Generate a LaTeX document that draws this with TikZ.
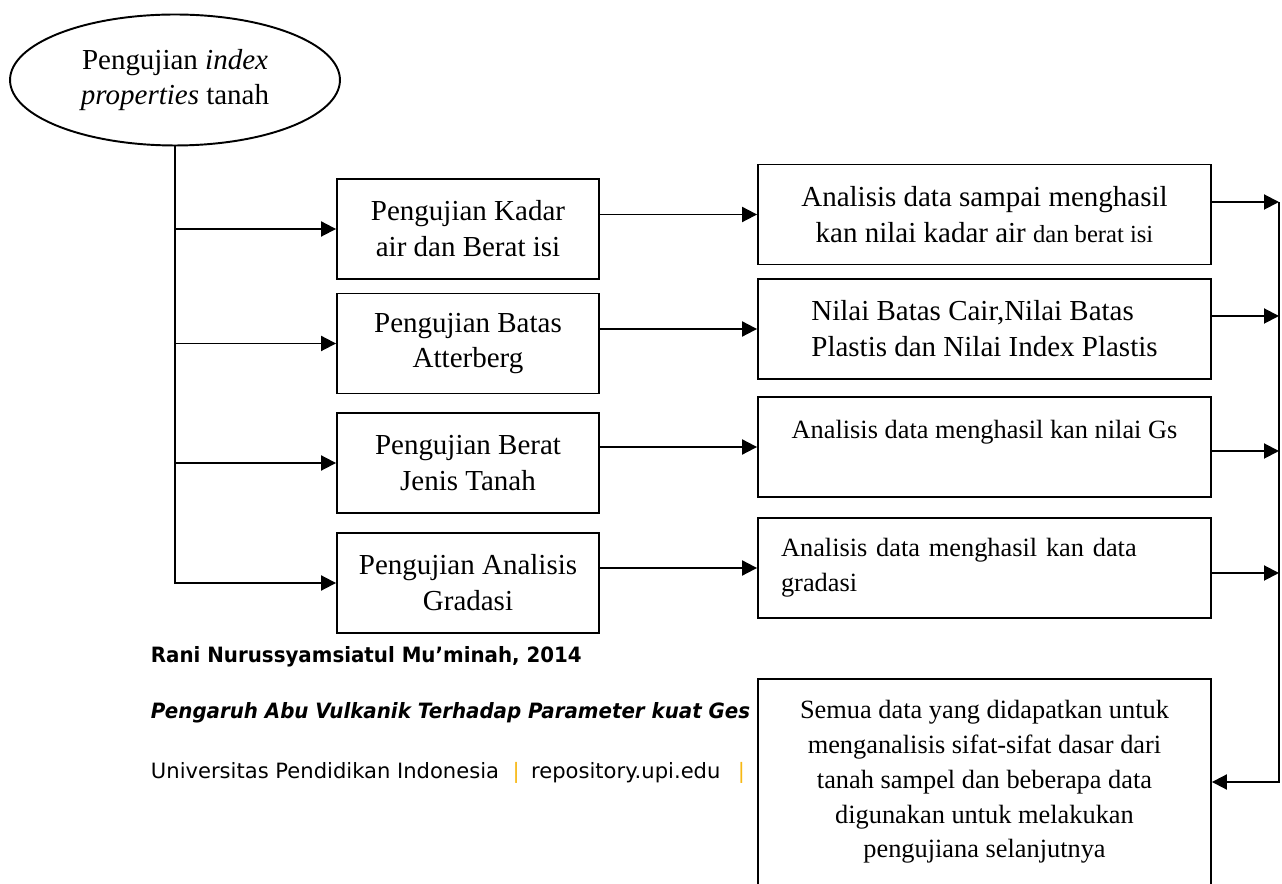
\documentclass[tikz,border=0pt]{standalone}
\usepackage{fontspec}
\setmainfont{Liberation Serif}
\newfontfamily\footfont{DejaVu Sans}
\newfontfamily\footbold{DejaVu Sans}[FakeStretch=0.94]
\usepackage{xcolor}
\usepackage{tikz}
\usetikzlibrary{arrows.meta,shapes.geometric,positioning,calc}
\definecolor{barorange}{RGB}{247,184,20}
\tikzstyle{block}=[rectangle, draw, fill=white, align=center, inner sep=2pt]
\newcommand{\footsize}{\fontsize{12}{14}\selectfont}
\newcommand{\smallsize}{\fontsize{15}{19.8}\selectfont}

\begin{document}
\begin{tikzpicture}[x=0.02cm,y=-0.02cm,line width=1.1pt,font=\fontsize{16.5}{20.4}\selectfont,
lbox/.style={block,minimum width=5.24cm,minimum height=2cm},
rbox/.style={block,minimum width=9.06cm,minimum height=2cm},
link/.style={-{Triangle[length=3mm,width=3mm]}},
foot/.style={anchor=west,inner sep=0pt}]
\useasboundingbox (0,0) rectangle (1282,884);
\clip (0,0) rectangle (1282,884);
% footer of the page
\node (author) at (150,657)[foot,font=\footbold\footsize\bfseries] {Rani Nurussyamsiatul Mu’minah, 2014};
\node (title) at (150,713)[foot,font=\footbold\footsize\bfseries\itshape] {Pengaruh Abu Vulkanik Terhadap Parameter kuat Ges};
\node (univ) at (150,773)[foot,font=\footfont\footsize] {Universitas Pendidikan Indonesia\hspace{0.27cm}\textcolor{barorange}{|}\hspace{0.23cm}repository.upi.edu\hspace{0.35cm}\textcolor{barorange}{|}};
% start
\node (root) at (175,80)[ellipse,draw,align=center,minimum width=6.6cm,minimum height=2.62cm,inner sep=0pt] {Pengujian \textit{index}\\\textit{properties} tanah};
% tests
\node (l1) at (468,229)[lbox] {Pengujian Kadar\\air dan Berat isi};
\node (l2) at (468,343.5)[lbox] {Pengujian Batas\\Atterberg};
\node (l3) at (468,463)[lbox] {Pengujian Berat\\Jenis Tanah};
\node (l4) at (468,583)[lbox] {Pengujian Analisis\\Gradasi};
% results
\node (r1) at (984.5,214.5)[rbox] {Analisis data sampai menghasil\\kan nilai kadar air {\fontsize{14}{16}\selectfont dan berat isi}};
\node (r2) at (984.5,329)[rbox,align=left] {Nilai Batas Cair,Nilai Batas\\Plastis dan Nilai Index Plastis};
\node (r3) at (984.5,447)[rbox,font=\smallsize] {Analisis data menghasil kan nilai Gs\\\mbox{}};
\node (r4) at (984.5,568)[rbox,font=\smallsize,align=left,text width=8.14cm] {Analisis data menghasil kan data\\gradasi};
\node (res) at (984.5,782)[block,font=\smallsize,minimum width=9.06cm,minimum height=4.12cm] {Semua data yang didapatkan untuk\\menganalisis sifat-sifat dasar dari\\tanah sampel dan beberapa data\\digunakan untuk melakukan\\pengujiana selanjutnya};
\coordinate (bus) at (1279,202);
\draw[link] (root.south) |- (l4.west);
\foreach \b in {l1,l2,l3}
  \draw[link] (root.south |- \b.west) -- (\b.west);
\foreach \i in {1,...,4}
  \draw[link] (l\i.east |- r\i.west) -- (r\i.west);
\foreach \i/\dy in {1/0.25cm,2/0.26cm,3/-0.08cm,4/-0.1cm}{
  \coordinate (o\i) at ([yshift=\dy]r\i.east);
  \draw[link] (o\i) -- (o\i -| bus);
}
\draw[link] (bus) |- (res.east);
\end{tikzpicture}
\end{document}
